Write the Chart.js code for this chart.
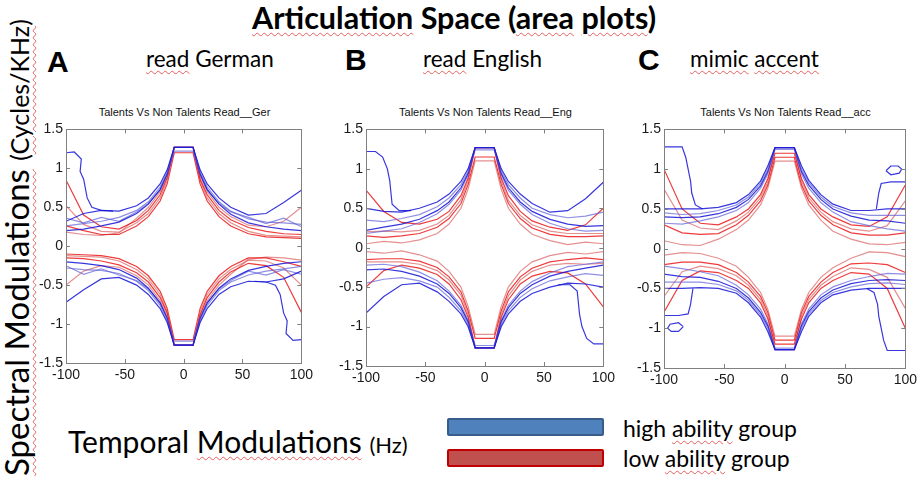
<!DOCTYPE html>
<html>
<head>
<meta charset="utf-8">
<script src="https://cdn.jsdelivr.net/npm/chart.js@4.4.1/dist/chart.umd.min.js"></script>
<style>
  html, body { margin: 0; padding: 0; background: #fff; }
  body { width: 923px; height: 478px; position: relative; overflow: hidden; font-family: Lato, "Open Sans", sans-serif; color: #000; }
  canvas { position: absolute; }
  .t { position: absolute; white-space: nowrap; line-height: 1; }
  .sq { text-decoration: underline wavy rgba(228, 70, 70, 0.85); text-decoration-thickness: 1px; text-underline-offset: 3px; }
  .sub { font-family: "Liberation Sans", Arial, sans-serif; font-size: 11px; text-align: center; color: #111; }
  .letter { font-family: "Liberation Sans", Arial, sans-serif; font-weight: bold; font-size: 30px; }
  .box { position: absolute; left: 447px; width: 153px; height: 14px; border-radius: 2px; }
</style>
</head>
<body>

<div class="t" style="left:252px; top:2px; font-size:30.5px; font-weight:bold;"><span class="sq">Articulation</span> Space (<span class="sq">area</span> <span class="sq">plots</span>)</div>

<div class="t letter" style="left:47px; top:47px;">A</div>
<div class="t letter" style="left:345px; top:45px;">B</div>
<div class="t letter" style="left:638px; top:45px;">C</div>

<div class="t" style="left:146px; top:48px; font-size:22.5px;"><span class="sq">read</span> German</div>
<div class="t" style="left:423px; top:48px; font-size:22.5px;"><span class="sq">read</span> English</div>
<div class="t" style="left:690px; top:48px; font-size:22.5px;"><span class="sq">mimic</span> <span class="sq">accent</span></div>

<div class="t sub" style="left:66px; width:237px; top:107px;">Talents Vs Non Talents Read__Ger</div>
<div class="t sub" style="left:366px; width:239px; top:107px;">Talents Vs Non Talents Read__Eng</div>
<div class="t sub" style="left:664px; width:243px; top:107px;">Talents Vs Non Talents Read__acc</div>

<div class="t" style="left:0; top:0; transform-origin:0 0; transform:translate(0px, 476px) rotate(-90deg); font-size:33px;"><span class="sq">Spectral Modulations</span> <span style="font-size:25px;">(<span class="sq">Cycles/KHz</span>)</span></div>

<div class="t" style="left:68px; top:426px; font-size:30px;">Temporal <span class="sq">Modulations</span> <span style="font-size:22px;">(Hz)</span></div>

<div class="box" style="top:418px; background:#4f81bd; border:2px solid #385d8a;"></div>
<div class="box" style="top:449px; background:#c0504d; border:2px solid #c00000;"></div>
<div class="t" style="left:623px; top:417px; font-size:23px;">high <span class="sq">ability</span> group</div>
<div class="t" style="left:623px; top:447px; font-size:23px;">low <span class="sq">ability</span> group</div>

<canvas id="cA" width="297" height="273" style="left:20px; top:118px;"></canvas>
<canvas id="cB" width="299" height="276" style="left:320px; top:118px;"></canvas>
<canvas id="cC" width="303" height="278" style="left:618px; top:118px;"></canvas>

<script>
// temporal modulation (Hz) sample points along each contour arm
const freqGrid = [-100, -85, -70, -55, -40, -30, -20, -14, -8, 8, 14, 20, 30, 40, 55, 70, 85, 100];
const xTicks = [-100, -50, 0, 50, 100];
const yTicks = [-1.5, -1, -0.5, 0, 0.5, 1, 1.5];

// --- A: read German ---
const gerBlueUp = [
  [0.32, 0.42, 0.46, 0.45, 0.52, 0.62, 0.80, 0.98, 1.27, 1.27, 0.98, 0.80, 0.62, 0.50, 0.40, 0.42, 0.56, 0.72],
  [0.26, 0.29, 0.32, 0.37, 0.46, 0.57, 0.76, 0.95, 1.27, 1.27, 0.95, 0.76, 0.57, 0.45, 0.35, 0.31, 0.30, 0.28],
  [0.20, 0.22, 0.26, 0.31, 0.42, 0.54, 0.73, 0.93, 1.27, 1.27, 0.93, 0.73, 0.54, 0.41, 0.30, 0.25, 0.22, 0.20],
  [0.36, 0.30, 0.37, 0.32, 0.44, 0.55, 0.72, 0.92, 1.22, 1.22, 0.92, 0.72, 0.55, 0.44, 0.37, 0.29, 0.36, 0.25]
];
const gerBlueLow = [
  [-0.72, -0.56, -0.42, -0.40, -0.50, -0.62, -0.80, -0.98, -1.27, -1.27, -0.98, -0.80, -0.62, -0.52, -0.45, -0.46, -0.42, -0.32],
  [-0.28, -0.30, -0.31, -0.35, -0.45, -0.57, -0.76, -0.95, -1.27, -1.27, -0.95, -0.76, -0.57, -0.46, -0.37, -0.32, -0.29, -0.26],
  [-0.20, -0.22, -0.25, -0.30, -0.41, -0.54, -0.73, -0.93, -1.27, -1.27, -0.93, -0.73, -0.54, -0.42, -0.31, -0.26, -0.22, -0.20],
  [-0.25, -0.36, -0.29, -0.37, -0.44, -0.55, -0.72, -0.92, -1.22, -1.22, -0.92, -0.72, -0.55, -0.44, -0.32, -0.37, -0.30, -0.36]
];
const gerRedUp = [
  [0.85, 0.40, 0.25, 0.22, 0.33, 0.46, 0.66, 0.88, 1.27, 1.27, 0.86, 0.66, 0.46, 0.34, 0.24, 0.19, 0.16, 0.15],
  [0.52, 0.28, 0.19, 0.18, 0.30, 0.42, 0.62, 0.84, 1.27, 1.27, 0.84, 0.62, 0.42, 0.30, 0.19, 0.14, 0.13, 0.12],
  [0.26, 0.20, 0.15, 0.15, 0.26, 0.38, 0.58, 0.80, 1.20, 1.20, 0.80, 0.58, 0.38, 0.26, 0.16, 0.12, 0.11, 0.10],
  [0.18, 0.15, 0.14, 0.17, 0.36, 0.50, 0.70, 0.90, 1.27, 1.27, 0.90, 0.70, 0.50, 0.38, 0.27, 0.25, 0.32, 0.50]
];
const gerRedLow = [
  [-0.15, -0.16, -0.19, -0.24, -0.34, -0.46, -0.66, -0.86, -1.27, -1.27, -0.88, -0.66, -0.46, -0.33, -0.22, -0.25, -0.40, -0.85],
  [-0.12, -0.13, -0.14, -0.19, -0.30, -0.42, -0.62, -0.84, -1.27, -1.27, -0.84, -0.62, -0.42, -0.30, -0.18, -0.19, -0.28, -0.50],
  [-0.10, -0.11, -0.12, -0.16, -0.26, -0.38, -0.58, -0.80, -1.20, -1.20, -0.80, -0.58, -0.38, -0.26, -0.15, -0.15, -0.20, -0.26],
  [-0.50, -0.32, -0.25, -0.27, -0.38, -0.50, -0.70, -0.90, -1.27, -1.27, -0.90, -0.70, -0.50, -0.36, -0.17, -0.14, -0.15, -0.18]
];
const gerLoopUpX = [-100, -93, -87, -88, -85, -82, -78, -70, -60];
const gerLoopUpY = [1.20, 1.21, 1.12, 0.96, 0.86, 0.62, 0.50, 0.46, 0.45];
const gerLoopLowX = [100, 93, 87, 88, 85, 82, 78, 70, 60];
const gerLoopLowY = [-1.20, -1.21, -1.12, -0.96, -0.86, -0.62, -0.50, -0.46, -0.45];

// --- B: read English ---
const engBlueUp = [
  [0.50, 0.46, 0.45, 0.50, 0.58, 0.68, 0.84, 1.00, 1.27, 1.27, 1.00, 0.84, 0.68, 0.56, 0.45, 0.47, 0.62, 0.83],
  [0.35, 0.33, 0.37, 0.42, 0.52, 0.63, 0.80, 0.97, 1.27, 1.27, 0.97, 0.80, 0.63, 0.50, 0.42, 0.38, 0.40, 0.45],
  [0.22, 0.26, 0.30, 0.36, 0.47, 0.58, 0.76, 0.94, 1.27, 1.27, 0.94, 0.76, 0.58, 0.46, 0.36, 0.30, 0.27, 0.28],
  [0.18, 0.21, 0.24, 0.32, 0.43, 0.55, 0.73, 0.92, 1.24, 1.24, 0.92, 0.73, 0.55, 0.42, 0.31, 0.24, 0.21, 0.22]
];
const engBlueLow = [
  [-0.83, -0.62, -0.47, -0.45, -0.56, -0.68, -0.84, -1.00, -1.27, -1.27, -1.00, -0.84, -0.68, -0.58, -0.50, -0.45, -0.46, -0.50],
  [-0.45, -0.40, -0.38, -0.42, -0.50, -0.63, -0.80, -0.97, -1.27, -1.27, -0.97, -0.80, -0.63, -0.52, -0.42, -0.37, -0.33, -0.35],
  [-0.28, -0.27, -0.30, -0.36, -0.46, -0.58, -0.76, -0.94, -1.27, -1.27, -0.94, -0.76, -0.58, -0.47, -0.36, -0.30, -0.26, -0.22],
  [-0.22, -0.21, -0.24, -0.31, -0.42, -0.55, -0.73, -0.92, -1.24, -1.24, -0.92, -0.73, -0.55, -0.43, -0.32, -0.24, -0.21, -0.18]
];
const engRedUp = [
  [0.73, 0.46, 0.32, 0.30, 0.36, 0.46, 0.66, 0.88, 1.27, 1.27, 0.88, 0.66, 0.46, 0.34, 0.26, 0.22, 0.29, 0.50],
  [0.20, 0.21, 0.20, 0.22, 0.30, 0.41, 0.61, 0.84, 1.27, 1.27, 0.84, 0.60, 0.41, 0.29, 0.21, 0.18, 0.18, 0.18],
  [0.15, 0.13, 0.15, 0.18, 0.26, 0.37, 0.56, 0.80, 1.15, 1.15, 0.80, 0.56, 0.37, 0.25, 0.17, 0.14, 0.14, 0.15],
  [0.05, 0.08, 0.06, 0.10, 0.18, 0.30, 0.50, 0.74, 1.10, 1.10, 0.74, 0.50, 0.30, 0.17, 0.09, 0.04, 0.07, 0.05]
];
const engRedLow = [
  [-0.50, -0.29, -0.22, -0.26, -0.34, -0.46, -0.66, -0.88, -1.27, -1.27, -0.88, -0.66, -0.46, -0.36, -0.30, -0.32, -0.46, -0.75],
  [-0.18, -0.18, -0.18, -0.21, -0.29, -0.41, -0.60, -0.84, -1.27, -1.27, -0.84, -0.61, -0.41, -0.30, -0.22, -0.20, -0.21, -0.20],
  [-0.15, -0.14, -0.14, -0.17, -0.25, -0.37, -0.56, -0.80, -1.15, -1.15, -0.80, -0.56, -0.37, -0.26, -0.18, -0.15, -0.13, -0.15],
  [-0.05, -0.07, -0.04, -0.09, -0.17, -0.30, -0.50, -0.74, -1.10, -1.10, -0.74, -0.50, -0.30, -0.18, -0.10, -0.06, -0.08, -0.05]
];
const engLoopUpX = [-100, -92, -86, -82, -80, -79, -78, -72, -62];
const engLoopUpY = [1.22, 1.22, 1.15, 1.00, 0.85, 0.70, 0.55, 0.47, 0.47];
const engLoopLowX = [100, 92, 86, 82, 80, 79, 78, 72, 62];
const engLoopLowY = [-1.22, -1.22, -1.15, -1.00, -0.85, -0.70, -0.55, -0.47, -0.47];

// --- C: mimic accent ---
const accBlueUp = [
  [0.50, 0.50, 0.50, 0.52, 0.58, 0.68, 0.85, 1.04, 1.27, 1.27, 1.04, 0.86, 0.68, 0.56, 0.48, 0.48, 0.50, 0.50],
  [0.45, 0.43, 0.44, 0.48, 0.55, 0.65, 0.82, 1.00, 1.27, 1.27, 1.00, 0.83, 0.65, 0.53, 0.45, 0.42, 0.42, 0.42],
  [0.40, 0.39, 0.40, 0.44, 0.52, 0.62, 0.79, 0.97, 1.27, 1.27, 0.97, 0.80, 0.62, 0.50, 0.41, 0.36, 0.35, 0.32],
  [0.32, 0.31, 0.35, 0.40, 0.48, 0.58, 0.76, 0.94, 1.25, 1.25, 0.94, 0.76, 0.58, 0.46, 0.34, 0.29, 0.25, 0.22]
];
const accBlueLow = [
  [-0.50, -0.50, -0.49, -0.50, -0.56, -0.68, -0.86, -1.04, -1.27, -1.27, -1.04, -0.85, -0.68, -0.58, -0.52, -0.50, -0.50, -0.50],
  [-0.42, -0.42, -0.42, -0.45, -0.53, -0.65, -0.83, -1.00, -1.27, -1.27, -1.00, -0.82, -0.65, -0.55, -0.48, -0.44, -0.43, -0.45],
  [-0.32, -0.35, -0.36, -0.41, -0.50, -0.62, -0.80, -0.97, -1.27, -1.27, -0.97, -0.79, -0.62, -0.52, -0.44, -0.40, -0.39, -0.40],
  [-0.22, -0.25, -0.29, -0.34, -0.46, -0.58, -0.76, -0.94, -1.25, -1.25, -0.94, -0.76, -0.58, -0.48, -0.40, -0.35, -0.31, -0.32]
];
const accRedUp = [
  [1.00, 0.50, 0.32, 0.30, 0.40, 0.50, 0.68, 0.88, 1.20, 1.20, 0.88, 0.68, 0.50, 0.40, 0.30, 0.28, 0.40, 0.80],
  [0.75, 0.36, 0.26, 0.24, 0.35, 0.46, 0.64, 0.84, 1.27, 1.27, 0.84, 0.64, 0.46, 0.34, 0.25, 0.22, 0.29, 0.60],
  [0.30, 0.20, 0.18, 0.19, 0.30, 0.42, 0.60, 0.80, 1.15, 1.15, 0.80, 0.60, 0.42, 0.30, 0.20, 0.17, 0.17, 0.20],
  [0.10, 0.05, 0.04, 0.12, 0.24, 0.36, 0.55, 0.76, 1.10, 1.10, 0.76, 0.55, 0.36, 0.22, 0.12, 0.06, 0.05, 0.08]
];
const accRedLow = [
  [-0.80, -0.40, -0.28, -0.30, -0.40, -0.50, -0.68, -0.88, -1.20, -1.20, -0.88, -0.68, -0.50, -0.40, -0.30, -0.32, -0.50, -1.00],
  [-0.60, -0.29, -0.22, -0.25, -0.34, -0.46, -0.64, -0.84, -1.27, -1.27, -0.84, -0.64, -0.46, -0.35, -0.24, -0.26, -0.36, -0.75],
  [-0.20, -0.17, -0.17, -0.20, -0.30, -0.42, -0.60, -0.80, -1.15, -1.15, -0.80, -0.60, -0.42, -0.30, -0.19, -0.18, -0.20, -0.30],
  [-0.08, -0.05, -0.06, -0.12, -0.22, -0.36, -0.55, -0.76, -1.10, -1.10, -0.76, -0.55, -0.36, -0.24, -0.12, -0.04, -0.05, -0.10]
];
const accLoopUpX = [-100, -85, -82, -80, -78, -77, -74, -68];
const accLoopUpY = [1.28, 1.28, 1.15, 1.00, 0.85, 0.70, 0.55, 0.50];
const accLoopLowX = [100, 85, 82, 80, 78, 77, 74, 68];
const accLoopLowY = [-1.28, -1.28, -1.15, -1.00, -0.85, -0.70, -0.55, -0.50];
const accEdgeUpX = [76, 78, 80, 88, 100];
const accEdgeUpY = [0.50, 0.70, 0.82, 0.84, 0.84];
const accEdgeLowX = [-76, -78, -80, -88, -100];
const accEdgeLowY = [-0.50, -0.70, -0.82, -0.84, -0.84];
const accIslandUpX = [84, 88, 94, 97, 95, 88, 84];
const accIslandUpY = [0.98, 1.04, 1.04, 1.00, 0.95, 0.93, 0.98];
const accIslandLowX = [-84, -88, -94, -97, -95, -88, -84];
const accIslandLowY = [-0.98, -1.04, -1.04, -1.00, -0.95, -0.93, -0.98];

const blueShades = ['rgba(20, 20, 215, 0.85)', 'rgba(95, 95, 215, 0.7)'];
const redShades = ['rgba(235, 25, 25, 0.85)', 'rgba(220, 105, 105, 0.75)'];

function line(xs, ys, color) {
  return {
    data: xs.map((x, i) => ({ x: x, y: ys[i] })),
    borderColor: color,
    borderWidth: 1.2,
    pointRadius: 0,
    showLine: true,
    tension: 0,
    fill: false
  };
}

function rows(list, shades) {
  return list.map((ys, i) => line(freqGrid, ys, shades[i % 2]));
}

const framePlugin = {
  id: 'frame',
  afterDatasetsDraw(chart) {
    const { ctx, chartArea: a, scales } = chart;
    ctx.save();
    ctx.strokeStyle = '#808080';
    ctx.lineWidth = 1;
    ctx.strokeRect(Math.round(a.left) + 0.5, Math.round(a.top) + 0.5, Math.round(a.width), Math.round(a.height));
    ctx.beginPath();
    xTicks.forEach(v => {
      const px = Math.round(scales.x.getPixelForValue(v)) + 0.5;
      ctx.moveTo(px, a.top); ctx.lineTo(px, a.top + 4);
      ctx.moveTo(px, a.bottom); ctx.lineTo(px, a.bottom - 4);
    });
    yTicks.forEach(v => {
      const py = Math.round(scales.y.getPixelForValue(v)) + 0.5;
      ctx.moveTo(a.left, py); ctx.lineTo(a.left + 4, py);
      ctx.moveTo(a.right, py); ctx.lineTo(a.right - 4, py);
    });
    ctx.stroke();
    ctx.restore();
  }
};

function renderPanel(id, blueUp, blueLow, redUp, redLow, extras) {
  const datasets = [
    ...rows(blueUp, blueShades),
    ...rows(blueLow, blueShades),
    ...extras.map(e => line(e[0], e[1], blueShades[0])),
    ...rows(redUp, redShades),
    ...rows(redLow, redShades)
  ];
  const tickFont = { family: '"Liberation Sans", Arial, sans-serif', size: 14 };
  new Chart(document.getElementById(id), {
    type: 'scatter',
    data: { datasets: datasets },
    plugins: [framePlugin],
    options: {
      responsive: false,
      animation: false,
      layout: { padding: { top: 10, right: 14, left: 0, bottom: 0 } },
      plugins: { legend: { display: false }, tooltip: { enabled: false } },
      scales: {
        x: {
          type: 'linear', min: -100, max: 100,
          grid: { display: false, drawTicks: false },
          border: { display: false },
          afterBuildTicks: s => { s.ticks = xTicks.map(v => ({ value: v })); },
          afterFit: s => { s.height = 28; },
          ticks: { font: tickFont, color: '#1a1a1a', padding: 4, maxRotation: 0, autoSkip: false, callback: v => String(v) }
        },
        y: {
          type: 'linear', min: -1.5, max: 1.5,
          grid: { display: false, drawTicks: false },
          border: { display: false },
          afterBuildTicks: s => { s.ticks = yTicks.map(v => ({ value: v })); },
          afterFit: s => { s.width = 46; },
          ticks: { font: tickFont, color: '#1a1a1a', padding: 3, autoSkip: false, callback: v => String(v) }
        }
      }
    }
  });
}

renderPanel('cA', gerBlueUp, gerBlueLow, gerRedUp, gerRedLow,
  [[gerLoopUpX, gerLoopUpY], [gerLoopLowX, gerLoopLowY]]);
renderPanel('cB', engBlueUp, engBlueLow, engRedUp, engRedLow,
  [[engLoopUpX, engLoopUpY], [engLoopLowX, engLoopLowY]]);
renderPanel('cC', accBlueUp, accBlueLow, accRedUp, accRedLow,
  [[accLoopUpX, accLoopUpY], [accLoopLowX, accLoopLowY], [accEdgeUpX, accEdgeUpY],
   [accEdgeLowX, accEdgeLowY], [accIslandUpX, accIslandUpY], [accIslandLowX, accIslandLowY]]);
</script>
</body>
</html>
